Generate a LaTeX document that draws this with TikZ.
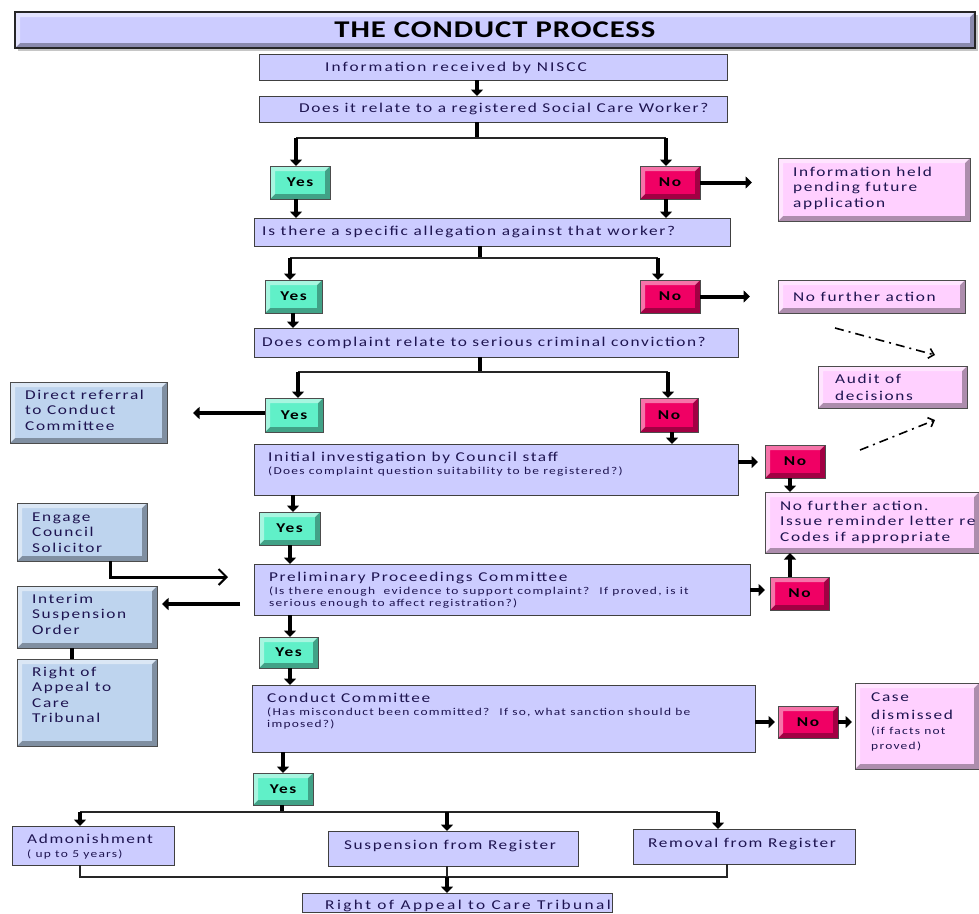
\documentclass[tikz,border=0pt]{standalone}
\usepackage{fontspec}
\setmainfont[FakeStretch=1.28,LetterSpace=12]{Carlito}
\usetikzlibrary{arrows.meta,calc,shadows}
\definecolor{lav}{RGB}{204,204,255}
\definecolor{grn}{RGB}{96,240,200}
\definecolor{rd}{RGB}{240,0,100}
\definecolor{pnk}{RGB}{255,208,255}
\definecolor{blu}{RGB}{190,212,238}
\definecolor{ink}{RGB}{30,20,80}
\newcommand\bx[7]{\node[#2, minimum width={(#5)-(#3)}, minimum height={(#6)-(#4)}] (#1) at ({((#3)+(#5))/2},{((#4)+(#6))/2}) {#7};}
\newcommand\tx[5]{\node[#2, anchor=base west] (#1) at (#3,#4) {\begin{tabular}[t]{@{}l@{}}#5\end{tabular}};}
\tikzset{
  bevel/.style={draw=black!70, line width=0.9pt, path picture={
    \fill[black,opacity=.32] (path picture bounding box.south west) -- (path picture bounding box.south east) -- (path picture bounding box.north east) -- ([shift={(-5pt,-5pt)}]path picture bounding box.north east) -- ([shift={(-5pt,5pt)}]path picture bounding box.south east) -- ([shift={(5pt,5pt)}]path picture bounding box.south west) -- cycle;
    \fill[white,opacity=.45] (path picture bounding box.south west) -- (path picture bounding box.north west) -- (path picture bounding box.north east) -- ([shift={(-5pt,-5pt)}]path picture bounding box.north east) -- ([shift={(5pt,-5pt)}]path picture bounding box.north west) -- ([shift={(5pt,5pt)}]path picture bounding box.south west) -- cycle;
  }},
  base/.style={inner sep=0pt, outer sep=0pt},
  qbox/.style={base, draw=black!75, line width=1pt, fill=lav},
  ybox/.style={base, bevel, fill=grn, font=\bfseries\fontsize{13.5}{15}\selectfont, text=black},
  nbox/.style={base, bevel, fill=rd, font=\bfseries\fontsize{13.5}{15}\selectfont, text=black},
  pbox/.style={base, bevel, fill=pnk},
  bbox/.style={base, bevel, fill=blu},
  tbox/.style={base, bevel, fill=lav, draw=black!85, line width=1.5pt, drop shadow={shadow xshift=3pt, shadow yshift=-3pt, opacity=.45}, font=\bfseries\fontsize{24}{28}\selectfont\addfontfeature{LetterSpace=4}, text=black},
  txt/.style={inner sep=0pt, text=ink, font=\fontsize{13.5}{15.5}\selectfont},
  stxt/.style={inner sep=0pt, text=ink, font=\fontsize{10.5}{12}\selectfont},
  fat/.style={line width=4pt, -{Triangle[width=12pt,length=6.5pt]}, black},
  stub/.style={line width=4pt, black},
  hl/.style={line width=1.2pt, black!85},
  dd/.style={line width=1.6pt, dash pattern=on 9pt off 5pt on 2pt off 5pt, -{Straight Barb[length=5pt,width=10pt]}},
  openarr/.style={line width=3pt, -{Straight Barb[length=8pt,width=16pt,line width=2pt]}},
}
\begin{document}
\begin{tikzpicture}[x=1pt,y=-1pt]
\useasboundingbox (0,0) rectangle (979,913);
% boxes
\bx{title}{tbox}{15}{12}{975}{48}{THE CONDUCT PROCESS}
\bx{info}{qbox}{259}{54}{727}{80}{}
\bx{q1}{qbox}{259}{96}{727}{122}{}
\bx{yes1}{ybox}{270}{166}{330}{199}{Yes}
\bx{no1}{nbox}{640}{166}{700}{199}{No}
\bx{held}{pbox}{778}{158}{970}{221}{}
\bx{q2}{qbox}{254}{218}{730}{246}{}
\bx{yes2}{ybox}{265}{280}{322}{313}{Yes}
\bx{no2}{nbox}{640}{280}{700}{313}{No}
\bx{nfa1}{pbox}{778}{280}{965}{313}{}
\bx{q3}{qbox}{254}{328}{738}{357}{}
\bx{yes3}{ybox}{265}{398}{323}{432}{Yes}
\bx{no3}{nbox}{640}{398}{698}{432}{No}
\bx{dr}{bbox}{10}{382}{167}{443}{}
\bx{audit}{pbox}{818}{366}{967}{408}{}
\bx{init}{qbox}{254}{444}{738}{495}{}
\bx{no4}{nbox}{765}{445}{825}{478}{No}
\bx{nfa2}{pbox}{765}{492}{979}{553}{}
\bx{yes4}{ybox}{259}{512}{320}{545}{Yes}
\bx{engage}{bbox}{17}{503}{147}{561}{}
\bx{prelim}{qbox}{254}{564}{750}{615}{}
\bx{iso}{bbox}{17}{586}{157}{648}{}
\bx{no5}{nbox}{770}{577}{829}{610}{No}
\bx{yes5}{ybox}{259}{637}{318}{668}{Yes}
\bx{roa1}{bbox}{17}{659}{157}{746}{}
\bx{cc}{qbox}{252}{685}{755}{752}{}
\bx{no6}{nbox}{778}{706}{838}{738}{No}
\bx{cd}{pbox}{855}{683}{979}{769}{}
\bx{yes6}{ybox}{253}{773}{313}{805}{Yes}
\bx{admon}{qbox}{12}{826}{174}{865}{}
\bx{susp}{qbox}{328}{831}{578}{866}{}
\bx{removal}{qbox}{633}{829}{855}{864}{}
\bx{roa2}{qbox}{302}{893}{612}{912}{}
% texts
\tx{info-t}{txt}{325}{71}{\addfontfeature{LetterSpace=15}Information received by NISCC}
\tx{q1-t}{txt}{299}{112}{Does it relate to a registered Social Care Worker?}
\tx{held-t}{txt}{793}{176}{Information held\\pending future\\application}
\tx{q2-t}{txt}{262}{235}{\addfontfeature{LetterSpace=13}Is there a specific allegation against that worker?}
\tx{nfa1-t}{txt}{793}{301}{No further action}
\tx{q3-t}{txt}{262}{346}{Does complaint relate to serious criminal conviction?}
\tx{dr-t}{txt}{25}{399}{Direct referral\\to Conduct\\Committee}
\tx{audit-t}{txt}{835}{383}{Audit of\\[1.5pt]decisions}
\tx{init-t}{txt}{268}{461}{Initial investigation by Council staff}
\tx{init-s}{stxt}{268}{474}{(Does complaint question suitability to be registered?)}
\tx{nfa2-t}{txt}{780}{510}{No further action.\\Issue reminder letter re\\Codes if appropriate}
\tx{engage-t}{txt}{32}{521}{Engage\\Council\\Solicitor}
\tx{prelim-t}{txt}{269}{581}{Preliminary Proceedings Committee}
\tx{prelim-s}{stxt}{269}{594}{(Is there enough~ evidence to support complaint?~ If proved, is it\\serious enough to affect registration?)}
\tx{iso-t}{txt}{32}{603}{Interim\\Suspension\\Order}
\tx{roa1-t}{txt}{32}{676}{Right of\\Appeal to\\Care\\Tribunal}
\tx{cc-t}{txt}{267}{702}{Conduct Committee}
\tx{cc-s}{stxt}{267}{715}{(Has misconduct been committed?~ If so, what sanction should be\\imposed?)}
\tx{cd-t}{txt}{871}{701}{Case\\[3pt]dismissed}
\tx{cd-s}{stxt}{871}{734}{(if facts not\\[3pt]proved)}
\tx{admon-t}{txt}{27}{843}{Admonishment}
\tx{admon-s}{stxt}{27}{857}{( up to 5 years)}
\tx{susp-t}{txt}{344}{849}{Suspension from Register}
\tx{removal-t}{txt}{648}{847}{Removal from Register}
\tx{roa2-t}{txt}{325}{909}{\addfontfeature{LetterSpace=18}Right of Appeal to Care Tribunal}
% junction coordinates
\coordinate (j1) at (477,138); \coordinate (j1l) at (296,138); \coordinate (j1r) at (666,138);
\coordinate (j2) at (480,258); \coordinate (j2l) at (290,258); \coordinate (j2r) at (658,258);
\coordinate (j3) at (480,372); \coordinate (j3l) at (298,372); \coordinate (j3r) at (668,372);
\coordinate (j6) at (282,812); \coordinate (j6l) at (80,812); \coordinate (j6m) at (447,812); \coordinate (j6r) at (718,812);
\coordinate (j7l) at (80,877); \coordinate (j7m) at (447,877); \coordinate (j7r) at (727,877);
\coordinate (d1s) at (835,328); \coordinate (d1e) at (935,355);
\coordinate (d2s) at (860,450); \coordinate (d2e) at (935,420);
% connectors
\draw[fat] (477,0 |- info.south) -- (477,0 |- q1.north);
\draw[stub] (477,0 |- q1.south) -- (j1);
\draw[hl] (j1l) -- (j1r);
\draw[fat] (j1l) -- (296,0 |- yes1.north);
\draw[fat] (j1r) -- (666,0 |- no1.north);
\draw[fat, shorten >=26pt] (no1.east) -- (no1.east -| held.west);
\draw[fat] (296,0 |- yes1.south) -- (296,0 |- q2.north);
\draw[fat] (666,0 |- no1.south) -- (666,0 |- q2.north);
\draw[stub] (480,0 |- q2.south) -- (j2);
\draw[hl] (j2l) -- (j2r);
\draw[fat] (j2l) -- (290,0 |- yes2.north);
\draw[fat] (j2r) -- (658,0 |- no2.north);
\draw[fat, shorten >=28pt] (no2.east) -- (no2.east -| nfa1.west);
\draw[fat] (293,0 |- yes2.south) -- (293,0 |- q3.north);
\draw[stub] (480,0 |- q3.south) -- (j3);
\draw[hl] (j3l) -- (j3r);
\draw[fat] (j3l) -- (298,0 |- yes3.north);
\draw[fat] (j3r) -- (668,0 |- no3.north);
\draw[fat, shorten >=26pt] (yes3.west |- 0,413) -- (dr.east |- 0,413);
\draw[fat] (672,0 |- no3.south) -- (672,0 |- init.north);
\draw[fat, shorten >=7pt] (init.east |- 0,462) -- (no4.west |- 0,462);
\draw[fat] (790,0 |- no4.south) -- (790,0 |- nfa2.north);
\draw[fat] (293,0 |- init.south) -- (293,0 |- yes4.north);
\draw[fat] (290,0 |- yes4.south) -- (290,0 |- prelim.north);
\draw[openarr, shorten >=26pt] (110,0 |- engage.south) |- (prelim.west |- 0,577);
\draw[fat, shorten <=14pt, shorten >=5pt] (prelim.west |- 0,604) -- (iso.east |- 0,604);
\draw[stub] (72,0 |- iso.south) -- (72,0 |- roa1.north);
\draw[fat, shorten >=5pt] (prelim.east |- 0,590) -- (no5.west |- 0,590);
\draw[fat] (790,0 |- no5.north) -- (790,0 |- nfa2.south);
\draw[fat] (290,0 |- prelim.south) -- (290,0 |- yes5.north);
\draw[fat] (290,0 |- yes5.south) -- (290,0 |- cc.north);
\draw[fat, shorten >=3pt] (cc.east |- 0,722) -- (no6.west |- 0,722);
\draw[fat, shorten >=3pt] (no6.east |- 0,722) -- (cd.west |- 0,722);
\draw[fat] (283,0 |- cc.south) -- (283,0 |- yes6.north);
\draw[stub] (282,0 |- yes6.south) -- (j6);
\draw[hl] (j6l) -- (j6r);
\draw[fat] (j6l) -- (80,0 |- admon.north);
\draw[fat] (j6m) -- (447,0 |- susp.north);
\draw[fat] (j6r) -- (718,0 |- removal.north);
\draw[hl] (80,0 |- admon.south) -- (j7l) -- (j7r) -- (727,0 |- removal.south);
\draw[hl] (447,0 |- susp.south) -- (j7m);
\draw[fat] (j7m) -- (447,0 |- roa2.north);
\draw[dd] (d1s) -- (d1e);
\draw[dd] (d2s) -- (d2e);
\end{tikzpicture}
\end{document}
